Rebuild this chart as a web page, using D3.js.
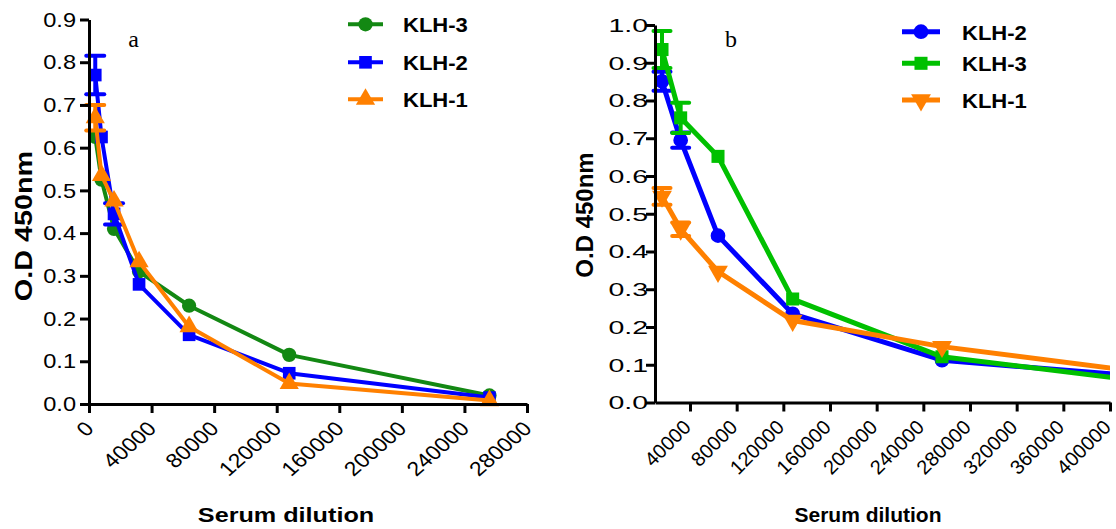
<!DOCTYPE html>
<html>
<head>
<meta charset="utf-8">
<script src="https://cdn.jsdelivr.net/npm/d3@7"></script>
<style>
  html, body { margin: 0; padding: 0; background: #fff; }
  svg { display: block; }
</style>
</head>
<body>
<svg id="chart" width="1116" height="529"></svg>
<script>
// ---- Panel a: serum dilution curves ----
const dilutionsA = [4000, 8000, 16000, 32000, 64000, 128000, 256000];
const klh3A    = [0.625, 0.525, 0.41, 0.31, 0.23, 0.115, 0.02];
const klh3AErr = [0, 0, 0, 0, 0, 0, 0];
const klh2A    = [0.77, 0.625, 0.445, 0.28, 0.162, 0.072, 0.015];
const klh2AErr = [0.045, 0, 0.025, 0, 0, 0, 0];
const klh1A    = [0.67, 0.535, 0.475, 0.333, 0.181, 0.048, 0.008];
const klh1AErr = [0.03, 0, 0, 0, 0, 0, 0];
const yTicksA = [0, 0.1, 0.2, 0.3, 0.4, 0.5, 0.6, 0.7, 0.8, 0.9];
const xTicksA = [0, 40000, 80000, 120000, 160000, 200000, 240000, 280000];

// ---- Panel b: serum dilution curves ----
const dilutionsB = [16000, 32000, 64000, 128000, 256000, 512000];
const klh2B    = [0.851, 0.695, 0.442, 0.235, 0.112, 0.048];
const klh2BErr = [0.025, 0.02, 0, 0, 0, 0];
const klh3B    = [0.935, 0.754, 0.652, 0.274, 0.121, 0.025];
const klh3BErr = [0.049, 0.04, 0, 0, 0, 0];
const klh1B    = [0.546, 0.459, 0.347, 0.217, 0.148, 0.047];
const klh1BErr = [0.022, 0.018, 0, 0, 0, 0];
const yTicksB = [0, 0.1, 0.2, 0.3, 0.4, 0.5, 0.6, 0.7, 0.8, 0.9, 1.0];
const xTicksB = [40000, 80000, 120000, 160000, 200000, 240000, 280000, 320000, 360000, 400000];

const SANS = "'Liberation Sans', Arial, sans-serif";
const SERIF = "'Liberation Serif', 'Times New Roman', serif";

const svg = d3.select("#chart");

function txt(g, s, transform, o) {
  return g.append("text")
    .attr("transform", transform)
    .attr("text-anchor", o.anchor || "start")
    .attr("font-family", o.family || SANS)
    .attr("font-size", o.size)
    .attr("font-weight", o.weight || "normal")
    .attr("fill", "#000")
    .text(s);
}

function symbolPath(kind, size) {
  if (kind === "circle") return d3.symbol(d3.symbolCircle, size)();
  if (kind === "square") return d3.symbol(d3.symbolSquare, size)();
  return d3.symbol(d3.symbolTriangle, size)();
}

function drawPanel(cfg) {
  const g = svg.append("g");
  const x = d3.scaleLinear().domain(cfg.xDomain).range([cfg.left, cfg.right]);
  const y = d3.scaleLinear().domain(cfg.yDomain).range([cfg.bottom, cfg.top]);

  // clip so lines running past the last tick stop at the axis end
  const clipId = "clip-" + cfg.id;
  svg.append("clipPath").attr("id", clipId)
    .append("rect").attr("x", cfg.left - 30).attr("y", 0)
    .attr("width", cfg.right - cfg.left + 30).attr("height", cfg.bottom + 10);

  const plot = g.append("g").attr("clip-path", `url(#${clipId})`);

  cfg.series.forEach(s => {
    const pts = cfg.xs.map((d, i) => ({ x: d, v: s.values[i], e: s.errors[i] }));
    const line = d3.line().x(d => x(d.x)).y(d => y(d.v));
    plot.append("path").datum(pts)
      .attr("d", line).attr("fill", "none")
      .attr("stroke", s.color).attr("stroke-width", cfg.lineWidth)
      .attr("stroke-linejoin", "round");

    // error bars
    pts.filter(d => d.e > 0).forEach(d => {
      const cx = x(d.x);
      plot.append("line").attr("x1", cx).attr("x2", cx)
        .attr("y1", y(d.v - d.e)).attr("y2", y(d.v + d.e))
        .attr("stroke", s.color).attr("stroke-width", 4);
      [d.v - d.e, d.v + d.e].forEach(v => {
        plot.append("line").attr("x1", cx - cfg.cap / 2).attr("x2", cx + cfg.cap / 2)
          .attr("y1", y(v)).attr("y2", y(v))
          .attr("stroke", s.color).attr("stroke-width", 4)
          .attr("stroke-linecap", "round");
      });
    });

    // markers
    plot.selectAll(null).data(pts).enter().append("path")
      .attr("d", symbolPath(s.symbol, cfg.symSize))
      .attr("transform", d => `translate(${x(d.x)},${y(d.v)})${s.flip ? " rotate(180)" : ""}`)
      .attr("fill", s.color);
  });

  // axes
  const yAxis = d3.axisLeft(y).tickValues(cfg.yTicks).tickFormat("").tickSize(9).tickSizeOuter(0);
  const xAxis = d3.axisBottom(x).tickValues(cfg.xTicks).tickFormat("").tickSize(9).tickSizeOuter(0);
  const ya = g.append("g").attr("transform", `translate(${cfg.left},0)`).call(yAxis);
  const xa = g.append("g").attr("transform", `translate(0,${cfg.bottom})`).call(xAxis);
  [ya, xa].forEach(a => {
    a.select(".domain").attr("stroke", "#000").attr("stroke-width", 3);
    a.selectAll(".tick line").attr("stroke", "#000").attr("stroke-width", 3);
  });

  // y tick labels
  cfg.yTicks.forEach(t => {
    txt(g, d3.format(".1f")(t),
      `translate(${cfg.yLabelRight},${y(t) + cfg.yLabSize * 0.36}) scale(${cfg.yLabSx},1)`,
      { anchor: "end", size: cfg.yLabSize });
  });
  // x tick labels, slanted
  cfg.xTicks.forEach(t => {
    txt(g, d3.format("d")(t),
      `translate(${x(t) + cfg.xLabDx},${cfg.bottom + cfg.xLabDy}) scale(${cfg.xLabSx},1) rotate(-45)`,
      { anchor: "end", size: cfg.xLabSize });
  });

  // axis titles
  txt(g, "O.D 450nm",
    `translate(${cfg.yTitleX},${cfg.yTitleY}) rotate(-90) scale(${cfg.yTitleSx},1)`,
    { anchor: "middle", size: cfg.yTitleSize, weight: "bold" });
  txt(g, "Serum dilution",
    `translate(${cfg.xTitleX},${cfg.xTitleY}) scale(${cfg.xTitleSx},1)`,
    { anchor: "middle", size: cfg.xTitleSize, weight: "bold" });

  // panel letter
  txt(g, cfg.letter, `translate(${cfg.letterX},${cfg.letterY})`,
    { anchor: "middle", size: 24, family: SERIF });

  // legend
  cfg.series.forEach((s, i) => {
    const ly = cfg.legendY[i];
    g.append("line").attr("x1", cfg.legendX0).attr("x2", cfg.legendX1)
      .attr("y1", ly).attr("y2", ly)
      .attr("stroke", s.color).attr("stroke-width", cfg.lineWidth);
    g.append("path").attr("d", symbolPath(s.symbol, cfg.symSize))
      .attr("transform", `translate(${(cfg.legendX0 + cfg.legendX1) / 2},${ly})${s.flip ? " rotate(180)" : ""}`)
      .attr("fill", s.color);
    txt(g, s.name, `translate(${cfg.legendTextX},${ly + 8}) scale(${cfg.legendSx},1)`,
      { size: cfg.legendSize, weight: "bold" });
  });
}

const GREEN_A = "#138813", GREEN_B = "#00c000", BLUE = "#0000ff", ORANGE = "#ff8000";

drawPanel({
  id: "a", letter: "a",
  xs: dilutionsA,
  xDomain: [0, 280000], yDomain: [0, 0.9],
  left: 89, right: 527, top: 19.5, bottom: 404,
  xTicks: xTicksA, yTicks: yTicksA,
  lineWidth: 4, symSize: 160, cap: 18,
  yLabelRight: 76, yLabSize: 20, yLabSx: 1.18,
  xLabSize: 20, xLabSx: 1.15, xLabDx: 6, xLabDy: 26,
  yTitleX: 32, yTitleY: 226, yTitleSize: 24, yTitleSx: 1.2,
  xTitleX: 286, xTitleY: 522, xTitleSize: 21, xTitleSx: 1.2,
  letterX: 133.5, letterY: 47,
  legendX0: 348, legendX1: 383, legendTextX: 403, legendY: [24.3, 62.3, 99.3],
  legendSize: 21, legendSx: 1.05,
  series: [
    { name: "KLH-3", values: klh3A, errors: klh3AErr, color: GREEN_A, symbol: "circle" },
    { name: "KLH-2", values: klh2A, errors: klh2AErr, color: BLUE, symbol: "square" },
    { name: "KLH-1", values: klh1A, errors: klh1AErr, color: ORANGE, symbol: "triangle" }
  ]
});

drawPanel({
  id: "b", letter: "b",
  xs: dilutionsB,
  xDomain: [10000, 400000], yDomain: [0, 1.0],
  left: 655, right: 1110, top: 25, bottom: 402.5,
  xTicks: xTicksB, yTicks: yTicksB,
  lineWidth: 5, symSize: 170, cap: 17,
  yLabelRight: 648, yLabSize: 19, yLabSx: 1.5,
  xLabSize: 20, xLabSx: 1.0, xLabDx: 2, xLabDy: 26,
  yTitleX: 593, yTitleY: 215, yTitleSize: 24, yTitleSx: 1.0,
  xTitleX: 868, xTitleY: 522, xTitleSize: 21, xTitleSx: 1.0,
  letterX: 731, letterY: 47,
  legendX0: 902, legendX1: 940, legendTextX: 962, legendY: [31.7, 63.3, 100],
  legendSize: 21, legendSx: 1.05,
  series: [
    { name: "KLH-2", values: klh2B, errors: klh2BErr, color: BLUE, symbol: "circle" },
    { name: "KLH-3", values: klh3B, errors: klh3BErr, color: GREEN_B, symbol: "square" },
    { name: "KLH-1", values: klh1B, errors: klh1BErr, color: ORANGE, symbol: "triangle", flip: true }
  ]
});
</script>
</body>
</html>
